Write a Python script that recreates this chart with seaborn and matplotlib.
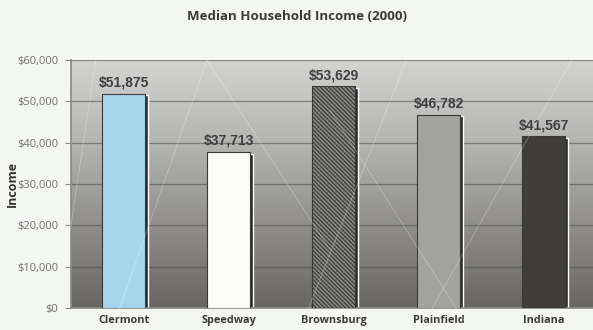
import numpy as np
import pandas as pd
import matplotlib
matplotlib.use("Agg")
import matplotlib.pyplot as plt
import seaborn as sns
from matplotlib.lines import Line2D

# Median household income by place, year 2000
places = ["Clermont", "Speedway", "Brownsburg", "Plainfield", "Indiana"]
incomes = [51875, 37713, 53629, 46782, 41567]
value_labels = ["$51,875", "$37,713", "$53,629", "$46,782", "$41,567"]
y_ticks = [0, 10000, 20000, 30000, 40000, 50000, 60000]
y_tick_labels = ["$0", "$10,000", "$20,000", "$30,000", "$40,000", "$50,000", "$60,000"]

bar_colors = ["#a6d6ee", "#fbfbfa", "#8a8a88", "#a2a39f", "#403e3c"]

sns.set_theme(style="white")
plt.rcParams["font.family"] = ["Open Sans", "DejaVu Sans"]
plt.rcParams["hatch.linewidth"] = 0.9

df = pd.DataFrame({"place": places, "income": incomes})

fig = plt.figure(figsize=(5.93, 3.30), dpi=100)
fig.patch.set_facecolor("#f4f6f1")

# faint decorative diagonals across the figure
deco = [((207, 60), (112, 330)), ((207, 60), (330, 250)), ((150, 0), (207, 60)),
        ((262, 0), (207, 60)), ((105, 0), (55, 330)), ((430, 0), (300, 330)),
        ((330, 110), (470, 330)), ((600, 10), (420, 330)), ((560, 0), (593, 40))]
for (x0, y0), (x1, y1) in deco:
    fig.add_artist(Line2D([x0 / 593, x1 / 593], [1 - y0 / 330, 1 - y1 / 330],
                          color="white", lw=0.6, alpha=0.3, zorder=5))

ax = fig.add_axes([71 / 593, 22 / 330, 522 / 593, 248 / 330])

# vertical gray gradient for the plot area, light at the top
grad = np.linspace(0, 1, 256).reshape(-1, 1)
cmap = matplotlib.colors.LinearSegmentedColormap.from_list(
    "bg", ["#d3d3d1", "#b4b4b2", "#8f8e8c", "#686664"])
ax.imshow(grad, extent=[0, 1, 0, 1], origin="upper", transform=ax.transAxes,
          cmap=cmap, aspect="auto", zorder=0)

# drop shadows on the right edge of each bar
xs = np.arange(len(places))
ax.bar(xs + 0.03, np.array(incomes) - 400, width=0.41, color="#2e2d2b", zorder=2)

sns.barplot(data=df, x="place", y="income", hue="place", palette=bar_colors,
            saturation=1, width=0.41, edgecolor="#3a3a38", linewidth=0.8,
            legend=False, ax=ax, zorder=3)
ax.patches[-3].set_hatch("\\\\\\\\\\\\\\\\")
ax.patches[-3].set_edgecolor("#3a3a38")

for x, v, lab in zip(xs, incomes, value_labels):
    ax.annotate(lab, (x, v), xytext=(0, 3), textcoords="offset points",
                ha="center", va="bottom", fontsize=10, fontweight="bold",
                color="#404040", family=["Liberation Sans", "DejaVu Sans"],
                zorder=6)

ax.set_ylim(0, 60000)
ax.set_xlim(-0.5, 4.47)
ax.set_yticks(y_ticks)
ax.set_yticklabels(y_tick_labels, fontsize=8, color="#707070")
for y in y_ticks[1:]:
    ax.axhline(y, color="#4a4a48", lw=0.9, alpha=0.55, zorder=1)
ax.tick_params(axis="y", length=4, width=0.8, color="#8a8a8a", pad=5, left=True)
ax.tick_params(axis="x", length=0, pad=5)
for lab in ax.get_xticklabels():
    lab.set_fontsize(7.8)
    lab.set_fontweight("bold")
    lab.set_color("#3a3a3a")

for s in ["top", "right"]:
    ax.spines[s].set_visible(False)
ax.spines["left"].set_color("#8a8a8a")
ax.spines["bottom"].set_color("#8a8a8a")

ax.set_xlabel("")
ax.set_ylabel("Income", fontsize=9, fontweight="bold", color="#333333")
ax.yaxis.set_label_coords(-0.1, 0.5)

fig.text(297 / 593, 1 - 17 / 330, "Median Household Income (2000)", ha="center",
         va="center", fontsize=9.5, fontweight="bold", color="#3a3a3a")

fig.savefig("out.png", dpi=100, facecolor=fig.get_facecolor())
